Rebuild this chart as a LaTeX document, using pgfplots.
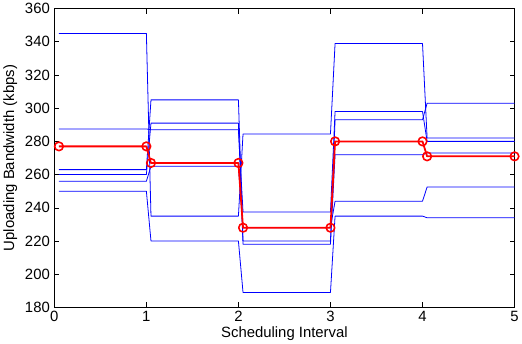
\documentclass[border=0pt]{standalone}
\usepackage{fontspec}
\setmainfont{Liberation Sans}
\usepackage{pgfplots}
\pgfplotsset{compat=1.18}
\definecolor{mblue}{RGB}{0,0,255}
\definecolor{mred}{RGB}{255,0,0}
\begin{document}
\begin{tikzpicture}
\begin{axis}[
  width=462bp, height=300bp, scale only axis,
  xmin=0, xmax=5, ymin=180, ymax=360,
  xtick={0,1,2,3,4,5}, ytick={180,200,...,360},
  tick align=inside, major tick length=5bp,
  tick style={black, line width=0.6pt},
  axis line style={black, line width=0.9pt},
  clip=false,
  font=\fontsize{15}{18}\selectfont,
  ticklabel style={font=\fontsize{15}{18}\selectfont},
  yticklabel style={xshift=-1bp},
  /pgf/number format/assume math mode=true,
  xlabel={Scheduling Interval},
  ylabel={Uploading Bandwidth (kbps)},
  xlabel style={yshift=2bp},
  ylabel style={yshift=1bp},
  every axis plot/.append style={line join=round},
]
% blue series
\addplot[mblue, line width=0.8pt] coordinates {(0.05,345) (1,345) (1.05,235) (2,235) (2.05,284.5) (3,284.5) (3.05,339) (4,339) (4.05,282) (5,282)};
\addplot[mblue, line width=0.8pt] coordinates {(0.05,287.5) (1,287.5) (1.05,287) (2,287) (2.05,237.5) (3,237.5) (3.05,298) (4,298) (4.05,280) (5,280)};
\addplot[mblue, line width=0.8pt] coordinates {(0.05,263) (1,263) (1.05,305) (2,305) (2.05,220) (3,220) (3.05,293) (4,293) (4.05,303) (5,303)};
\addplot[mblue, line width=0.8pt] coordinates {(0.05,260) (1,260) (1.05,291) (2,291) (2.05,218) (3,218) (3.05,272) (4,272) (4.05,273) (5,273)};
\addplot[mblue, line width=0.8pt] coordinates {(0.05,256) (1,256) (1.05,265) (2,265) (2.05,228) (3,228) (3.05,244) (4,244) (4.05,252.5) (5,252.5)};
\addplot[mblue, line width=0.8pt] coordinates {(0.05,250) (1,250) (1.05,220) (2,220) (2.05,189) (3,189) (3.05,235) (4,235) (4.05,234) (5,234)};
% red series
\addplot[mred, line width=1.8pt, mark=o, mark size=4.3bp, mark options={line width=1.6pt}] coordinates {(0.05,277) (1,277) (1.05,267) (2,267) (2.05,228) (3,228) (3.05,280) (4,280) (4.05,271) (5,271)};
\end{axis}
\end{tikzpicture}
\end{document}
